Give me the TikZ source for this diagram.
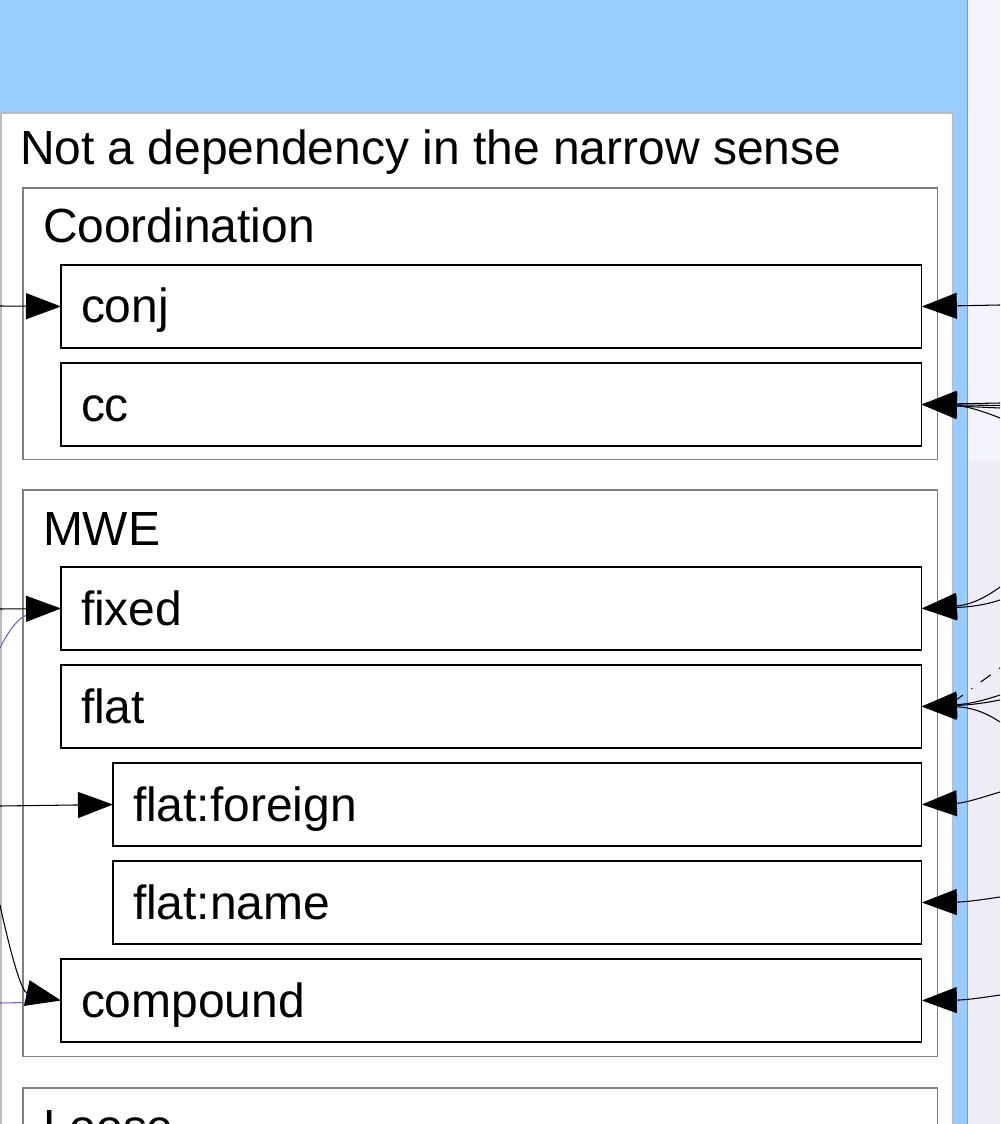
\documentclass[tikz,border=0pt]{standalone}
\usepackage{fontspec}
\setmainfont{Liberation Sans}
\usetikzlibrary{arrows.meta}
\definecolor{bgblue}{HTML}{99CCFF}
\definecolor{edgeblue}{HTML}{6C9BD2}
\definecolor{lavtop}{HTML}{F4F4FE}
\definecolor{lavbot}{HTML}{EFECF8}
\definecolor{outergrey}{HTML}{BBBBBB}
\definecolor{groupgrey}{HTML}{808080}
\definecolor{purp}{HTML}{7E57C2}
\tikzset{
  bigtext/.style={font=\fontsize{27.3}{32}\selectfont},
  lbl/.style={anchor=base west, inner sep=0pt, outer sep=0pt, bigtext},
  box/.style={draw=black, line width=0.6pt, fill=white, anchor=north west,
    inner sep=0pt, outer sep=0pt, minimum height=1.66cm, minimum width=17.22cm},
  subbox/.style={box, minimum width=16.18cm},
  groupbox/.style={draw=groupgrey, line width=0.6pt, fill=white, anchor=north west,
    inner sep=0pt, outer sep=0pt, minimum width=18.3cm},
  arr/.style={line width=0.6pt, -{Triangle[length=0.7cm,width=0.52cm]}},
  plain/.style={line width=0.6pt},
}
\begin{document}
\begin{tikzpicture}[x=0.02cm,y=-0.02cm]
\useasboundingbox (0,0) rectangle (1000,1124);
\clip (0,0) rectangle (1000,1124);
% backgrounds
\fill[bgblue] (0,0) rectangle (968,1124);
\fill[lavtop] (968,0) rectangle (1000,460);
\fill[lavbot] (968,460) rectangle (1000,1124);
\draw[edgeblue, line width=0.6pt] (967.5,0) -- (967.5,1124);
% outer container
\node[draw=outergrey, line width=0.6pt, fill=white, anchor=north west, inner sep=0pt, outer sep=0pt,
  minimum width=19.04cm, minimum height=22cm] (outer) at (1,113) {};
\node[lbl] (outertitle) at (20,165) {Not a dependency in the narrow sense};
% Coordination
\node[groupbox, minimum height=5.44cm] (coord) at (23,188) {};
\node[lbl] (coordtitle) at (43,243) {Coordination};
\node[box] (conj) at (61,265) {};
\node[lbl] (conjt) at (81,323) {conj};
\node[box] (cc) at (61,363) {};
\node[lbl] (cct) at (81,421) {cc};
% MWE
\node[groupbox, minimum height=11.34cm] (mwe) at (23,490) {};
\node[lbl] (mwetitle) at (43,545) {MWE};
\node[box] (fixed) at (61,567) {};
\node[lbl] (fixedt) at (81,625) {fixed};
\node[box] (flat) at (61,665) {};
\node[lbl] (flatt) at (81,723) {flat};
\node[subbox] (flatforeign) at (113,763) {};
\node[lbl] (flatforeignt) at (133,821) {flat:foreign};
\node[subbox] (flatname) at (113,861) {};
\node[lbl] (flatnamet) at (133,919) {flat:name};
\node[box] (compound) at (61,959) {};
\node[lbl] (compoundt) at (81,1017) {compound};
% Loose
\node[groupbox, minimum height=4cm] (loose) at (23,1088) {};
\node[lbl] (looset) at (43,1143) {Loose};
% free ends, left
\coordinate (Lconj) at (0,306);
\coordinate (Lfixed) at (0,609);
\coordinate (Lfixedp) at (0,648);
\coordinate (Lforeign) at (0,806);
\coordinate (Lcomp) at (0,905);
\coordinate (Lcompp) at (0,1003);
% left connectors
\draw[purp, plain] (Lfixedp) .. controls (10,628) and (20,616) .. ([xshift=-0.64cm,yshift=-0.12cm]fixed.west);
\draw[purp, plain] (Lcompp) -- ([xshift=-0.66cm,yshift=-0.04cm]compound.west);
\draw[arr] (Lconj) -- (conj.west);
\draw[arr] (Lfixed) -- (fixed.west);
\draw[arr] (Lforeign) -- (flatforeign.west);
\draw[arr] (Lcomp) .. controls (12,960) and (22,992) .. (compound.west);
% free ends, right
\coordinate (Rconj) at (1000,305);
\coordinate (Rcc1) at (1000,403);
\coordinate (Rcc2) at (1000,405.5);
\coordinate (Rcc3) at (1000,408);
\coordinate (Rcc4) at (1000,418);
\coordinate (Rfx1) at (1000,587);
\coordinate (Rfx2) at (1000,600);
\coordinate (Rfl1) at (1000,695);
\coordinate (Rfl2) at (1000,700);
\coordinate (Rfl3) at (1000,722);
\coordinate (Rfl4) at (1000,668);
\coordinate (Rff) at (1000,792);
\coordinate (Rfn) at (1000,897);
\coordinate (Rcp) at (1000,995);
% right connectors
\draw[arr] (Rconj) -- (conj.east);
\draw[arr] (Rcc1) -- (cc.east);
\draw[arr] (Rcc2) -- (cc.east);
\draw[arr] (Rcc3) -- (cc.east);
\draw[arr] (Rcc4) .. controls (980,410) and (965,406) .. (cc.east);
\draw[arr] (Rfx1) .. controls (985,598) and (970,605) .. (fixed.east);
\draw[arr] (Rfx2) .. controls (985,605) and (970,607) .. (fixed.east);
\draw[arr] (Rfl1) .. controls (985,700) and (970,704) .. (flat.east);
\draw[arr] (Rfl2) .. controls (985,703) and (970,705) .. (flat.east);
\draw[arr] (Rfl3) .. controls (985,712) and (970,707) .. (flat.east);
\draw[plain, dash pattern=on 0.6pt off 6pt on 7pt off 6pt] (Rfl4) -- ([xshift=0.7cm,yshift=0.14cm]flat.east);
\draw[arr] (Rff) .. controls (980,798) and (965,803) .. (flatforeign.east);
\draw[arr] (Rfn) .. controls (980,900) and (965,902) .. (flatname.east);
\draw[arr] (Rcp) .. controls (980,998) and (965,1000) .. (compound.east);
\end{tikzpicture}
\end{document}
